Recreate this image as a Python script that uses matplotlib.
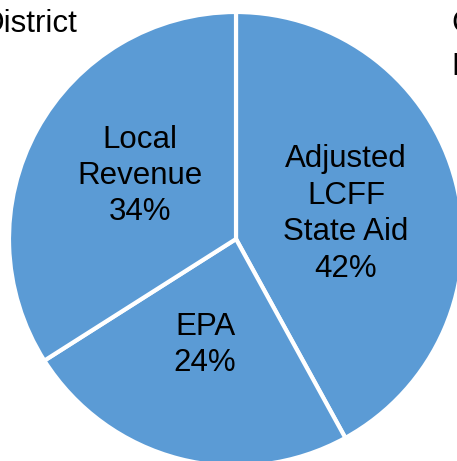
import matplotlib.pyplot as plt

plt.rcParams['font.family'] = ['Liberation Sans', 'DejaVu Sans']

categories = ["Adjusted\nLCFF\nState Aid", "EPA", "Local\nRevenue"]
shares = [42, 24, 34]

W, H = 457, 461
cx, cy, R = 236, 239, 227   # pie centre and radius in pixels


def px(x, y):
    # pixel coords (origin top-left) -> data coords
    return (x - cx) / R, (cy - y) / R


fig = plt.figure(figsize=(W / 100, H / 100), dpi=100)
ax = fig.add_axes([0, 0, 1, 1])

wedges, texts = ax.pie(shares, startangle=90, counterclock=False,
                       colors=["#5B9BD5"] * len(shares), radius=1,
                       wedgeprops=dict(edgecolor="white", linewidth=3))

label_pos = [(346, 214), (205, 345), (140, 176)]
for t, cat, val, pos in zip(texts, categories, shares, label_pos):
    t.set_text(f"{cat}\n{val}%")
    t.set_position(px(*pos))
    t.set_ha("center")
    t.set_va("center")
    t.set_fontsize(22.5)
    t.set_linespacing(1.28)
    t.set_color("black")

ax.text(*px(77, 24), "District", ha="right", va="center", fontsize=22.5)
ax.text(*px(451, 24), "C", ha="left", va="center", fontsize=22.5)
ax.text(*px(451, 67), "F", ha="left", va="center", fontsize=22.5)

x0, y1 = px(0, 0)
x1, y0 = px(W, H)
ax.set_xlim(x0, x1)
ax.set_ylim(y0, y1)
ax.set_aspect("auto")
ax.axis("off")

fig.savefig("out.png", dpi=100)
